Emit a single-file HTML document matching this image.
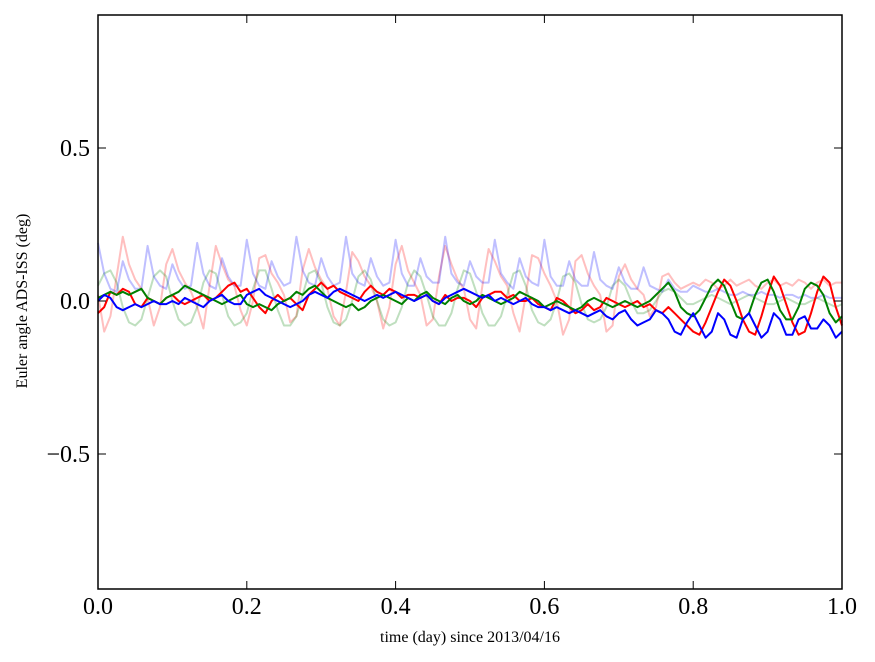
<!DOCTYPE html>
<html><head><meta charset="utf-8"><style>
html,body{margin:0;padding:0;background:#fff;}
svg{display:block;font-family:"Liberation Serif",serif;}
</style></head><body>
<svg id="chart" width="875" height="662">
<rect x="0" y="0" width="875" height="662" fill="#fff"/>
<g id="series"></g>
<rect x="98" y="15" width="744" height="574" fill="none" stroke="#000" stroke-width="1.5"/>
<g id="axes"></g>
<text x="470" y="642" font-size="16" text-anchor="middle">time (day) since 2013/04/16</text>
<text transform="translate(27,301) rotate(-90)" font-size="16" text-anchor="middle">Euler angle ADS-ISS (deg)</text>
</svg>
<script>
const xTicks=[0,0.2,0.4,0.6,0.8,1.0];
const xTickLabels=["0.0","0.2","0.4","0.6","0.8","1.0"];
const yTicks=[-0.5,0,0.5];
const yTickLabels=["\u22120.5","0.0","0.5"];
const paleBlue=[19,9,4,3,13,7,4,4,18,8,5,4,12,7,4,5,19,9,5,4,14,8,5,5,20,9,5,4,13,8,5,6,21,10,6,5,14,8,5,6,21,9,6,5,14,8,5,6,20,9,5,5,14,8,6,6,21,9,6,5,13,8,6,6,20,9,6,4,14,8,6,5,20,8,5,5,13,7,5,5,16,7,5,4,11,6,4,4,11,5,4,3,7,4,3,3,5,4,3,3,4,3,2,2,3,2,2,3,2,2,1,2,2,1,2,1,1,2,1,1,1];
const paleRed=[2,-10,-5,8,21,12,7,4,1,-8,-2,12,17,10,6,3,-2,-9,5,18,12,7,5,-3,-8,0,14,15,9,6,2,-7,-5,10,17,11,7,4,-5,-8,3,16,13,8,5,0,-9,-2,12,18,10,6,2,-8,-6,8,18,12,7,4,-6,-9,5,17,13,8,5,-4,-10,2,15,14,9,5,0,-11,-6,13,15,9,5,2,-10,-8,8,12,7,4,2,-5,-2,8,9,6,4,5,6,5,7,6,4,5,7,5,6,7,5,4,6,7,5,6,5,7,6,4,6,7,5,6,6];
const paleGreen=[5,9,10,6,-2,-7,-8,-6,1,8,10,8,0,-6,-8,-7,-2,6,10,9,2,-5,-8,-7,-4,4,10,10,4,-3,-8,-8,-5,2,9,10,6,-2,-7,-8,-6,0,8,10,7,0,-6,-8,-7,-2,6,10,8,2,-5,-8,-8,-4,4,10,9,3,-4,-8,-8,-5,2,9,10,5,-3,-7,-8,-6,0,8,9,6,-1,-6,-7,-6,-2,5,7,5,0,-4,-4,-3,0,3,4,3,1,-1,-1,0,1,2,1,0,-1,0,1,2,1,0,-1,-1,0,1,0,-1,-1,0,1,0,-1,-2,-1];
const redSeries=[-4,-2,3,2,4,3,-1,-2,1,0,-1,1,2,0,-1,0,1,2,0,1,3,5,6,3,4,1,-2,-4,0,2,0,1,-1,-3,2,4,6,4,5,3,2,1,0,3,5,3,2,4,3,1,2,2,1,2,0,-1,2,0,1,1,0,-2,1,2,3,3,1,2,0,0,1,-1,-2,-3,1,0,-2,-4,-3,-1,-3,-2,1,0,-1,-2,-1,0,-2,-1,-3,-4,-2,-4,-6,-8,-10,-11,-7,-2,3,7,5,0,-6,-10,-11,-5,2,8,5,-1,-7,-11,-10,-4,3,8,6,-2,-8];
const greenSeries=[1,2,3,2,3,2,3,4,1,0,-1,1,2,3,5,4,3,2,1,0,-1,0,1,2,-1,-2,-1,-2,-3,-1,0,1,3,2,4,5,3,1,0,-1,-2,-1,-3,-2,0,1,2,1,0,-1,1,0,2,3,1,0,-1,1,2,0,-1,0,2,1,0,-1,0,1,3,2,1,0,-2,-1,0,-1,-2,-3,-2,0,1,0,-1,-2,-1,0,-1,-2,-1,0,2,4,6,3,-2,-4,-5,-3,1,5,7,5,0,-5,-6,-4,2,6,7,3,-3,-6,-6,-2,4,6,5,2,-4,-7,-5];
const blueSeries=[0,2,1,-2,-3,-2,-1,-2,-1,0,-1,-1,0,-1,1,0,-1,-2,0,1,2,0,-1,-1,2,3,4,2,1,0,-1,-2,-1,0,2,3,2,1,3,4,3,2,1,0,1,2,1,2,3,2,1,0,1,2,0,-1,1,2,3,4,3,2,1,2,0,1,0,-1,0,1,-1,-2,-2,-3,-2,-3,-4,-3,-4,-5,-4,-3,-5,-6,-4,-3,-6,-8,-7,-6,-3,-4,-6,-10,-11,-7,-4,-8,-12,-10,-4,-6,-11,-12,-6,-4,-8,-12,-10,-4,-6,-11,-11,-6,-5,-9,-9,-6,-8,-12,-10];

const NS="http://www.w3.org/2000/svg";
function xs(t){return 98+t*744;}
function ys(v){return 301-v*306;}
const sg=document.getElementById('series');
function drawLine(arr,color,op,name){
  const n=arr.length;
  const pts=arr.map((v,i)=>xs(i/(n-1)).toFixed(1)+","+ys(v/100).toFixed(1)).join(" ");
  const pl=document.createElementNS(NS,"polyline");
  pl.setAttribute("points",pts);
  pl.setAttribute("fill","none");
  pl.setAttribute("stroke",color);
  pl.setAttribute("stroke-opacity",op);
  pl.setAttribute("stroke-width","2");
  pl.setAttribute("stroke-linejoin","round");
  
  
  sg.appendChild(pl);
}
drawLine(paleRed,"#ff0000",0.25,"pale-red-series");
drawLine(paleGreen,"#008000",0.25,"pale-green-series");
drawLine(paleBlue,"#0000ff",0.25,"pale-blue-series");
drawLine(redSeries,"#ff0000",1,"red-series");
drawLine(greenSeries,"#008000",1,"green-series");
drawLine(blueSeries,"#0000ff",1,"blue-series");

const ax=document.getElementById('axes');
function mk(tag,attrs){const e=document.createElementNS(NS,tag);for(const k in attrs)e.setAttribute(k,attrs[k]);ax.appendChild(e);return e;}
xTicks.forEach((t,i)=>{
  const x=xs(t);
  const a=mk("line",{x1:x,y1:589,x2:x,y2:581,stroke:"#000","stroke-width":1});
  
  
  const b=mk("line",{x1:x,y1:15,x2:x,y2:23,stroke:"#000","stroke-width":1});
  
  
  const tx=mk("text",{x:x,y:614,"font-size":24,"text-anchor":"middle"});
  tx.textContent=xTickLabels[i];
  
  
});
yTicks.forEach((v,i)=>{
  const y=ys(v);
  const a=mk("line",{x1:98,y1:y,x2:106,y2:y,stroke:"#000","stroke-width":1});
  
  
  const b=mk("line",{x1:842,y1:y,x2:834,y2:y,stroke:"#000","stroke-width":1});
  
  
  const tx=mk("text",{x:90,y:y+8,"font-size":24,"text-anchor":"end"});
  tx.textContent=yTickLabels[i];
  
  
});
</script>
</body></html>
